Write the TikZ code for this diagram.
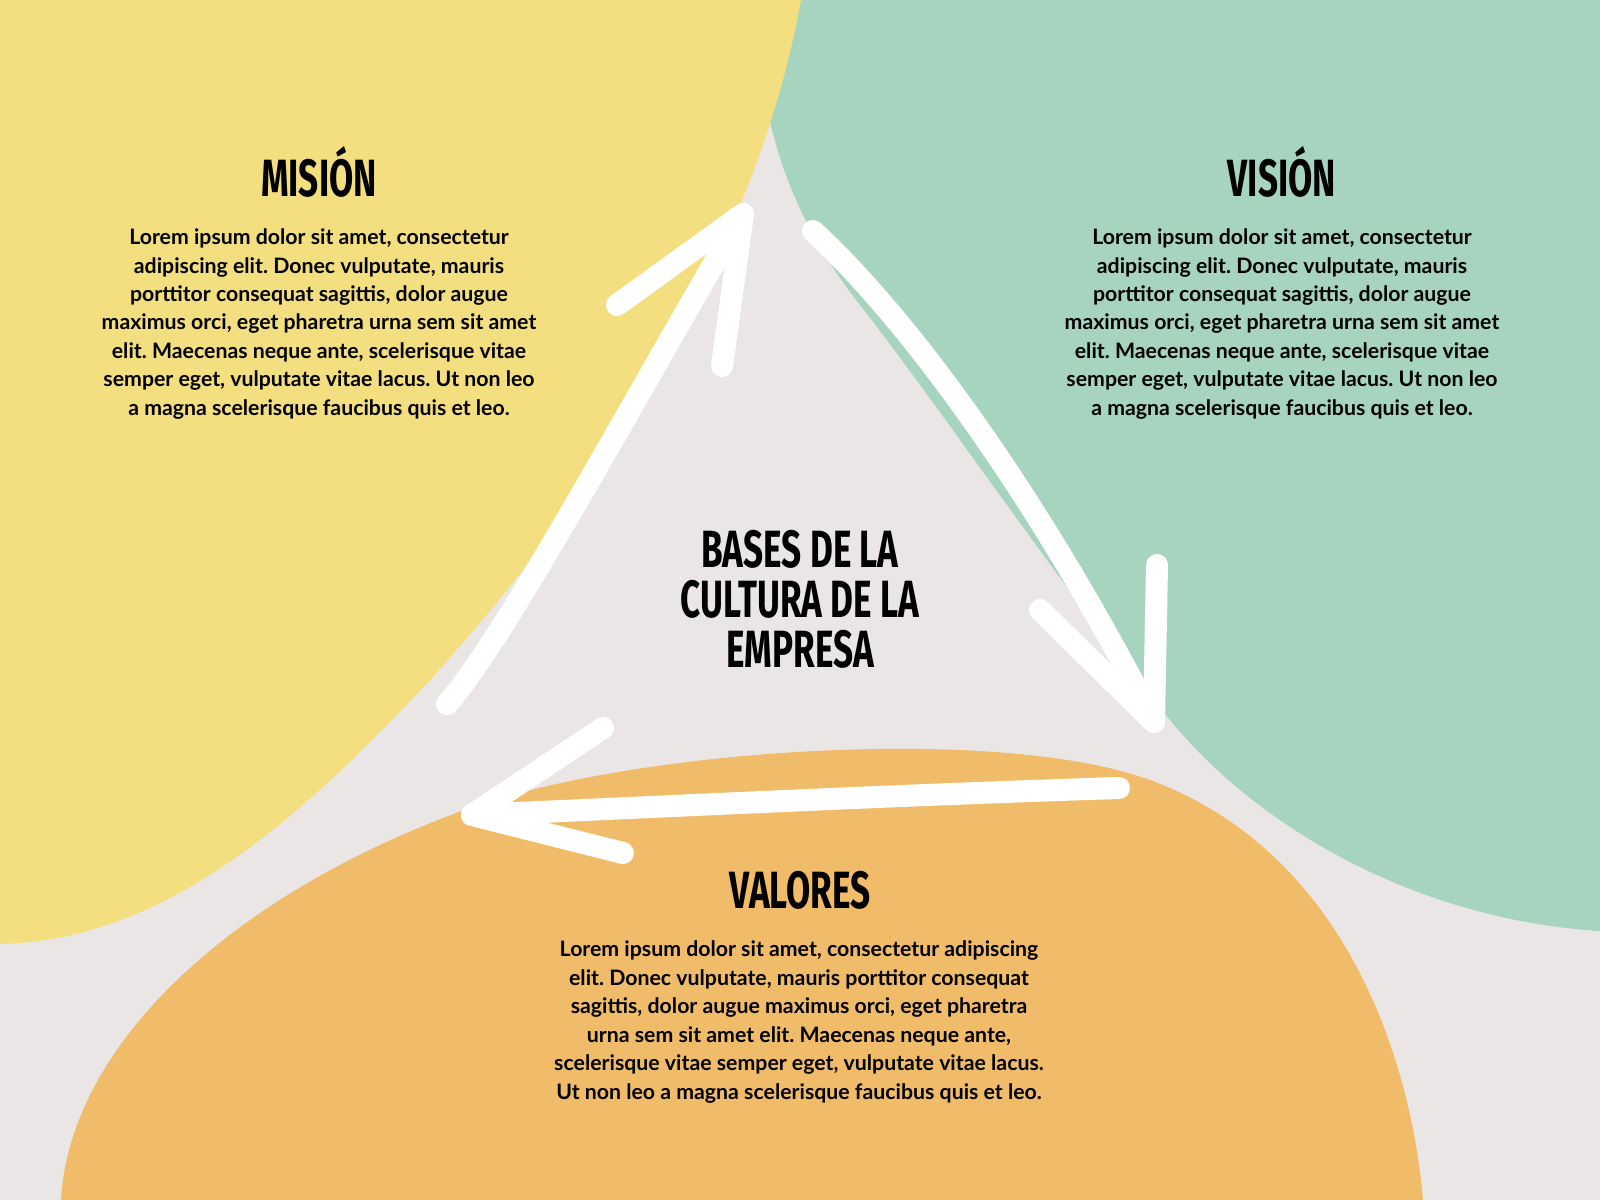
\documentclass[tikz,border=0pt]{standalone}
\usepackage{fontspec}
\usepackage{tikz}
\usepackage{color}
\newfontfamily\bodyfont{Lato}
\newfontfamily\headfont[FakeStretch=0.67]{Fira Sans}
\definecolor{fondo}{HTML}{EBE6E6}
\definecolor{amarillo}{HTML}{F3DF80}
\definecolor{verde}{HTML}{A6D4BE}
\definecolor{naranja}{HTML}{F1BC6A}
\frenchspacing

\begin{document}
\begin{tikzpicture}[x=0.01cm,y=-0.01cm,
 trazo/.style={white,line width=0.22cm,line cap=round,line join=round},
 titulo/.style={font=\headfont\bfseries\fontsize{14.9}{16}\selectfont,anchor=base},
 texto/.style={font=\bodyfont\bfseries\fontsize{6.05}{8.08}\selectfont,align=center}]
 \useasboundingbox (0,0) rectangle (1600,1200);
 \fill[fondo] (0,0) rectangle (1600,1200);

 % manchas de color
 \fill[verde] (758,0) .. controls (756,110) and (785,210) .. (860,305)
   .. controls (935,400) and (1070,600) .. (1170,720)
   .. controls (1260,830) and (1420,920) .. (1600,931) -- (1600,0) -- cycle;
 \fill[amarillo] (0,0) -- (801,0) .. controls (760,230) and (620,470) .. (430,680)
   .. controls (290,830) and (160,940) .. (0,944) -- cycle;
 \fill[naranja] (61,1200) .. controls (70,1040) and (240,890) .. (470,808)
   .. controls (640,748) and (1000,725) .. (1150,780)
   .. controls (1340,850) and (1410,1050) .. (1423,1200) -- cycle;

 % flechas
 \coordinate (m0) at (447,704);
 \coordinate (m1) at (743,214);
 \coordinate (ma) at (617,305);
 \coordinate (mb) at (722,366);
 \draw[trazo] (m0) .. controls (505,640) and (650,370) .. (m1);
 \draw[trazo] (ma) -- (m1) -- (mb);

 \coordinate (v0) at (813,231);
 \coordinate (v1) at (1154,722);
 \coordinate (va) at (1157,565);
 \coordinate (vb) at (1040,610);
 \draw[trazo] (v0) .. controls (910,320) and (1040,500) .. (v1);
 \draw[trazo] (va) -- (v1) -- (vb);

 \coordinate (c0) at (1119,788);
 \coordinate (c1) at (472,815);
 \coordinate (ca) at (603,728);
 \coordinate (cb) at (623,853);
 \draw[trazo] (c0) .. controls (900,795) and (700,805) .. (c1);
 \draw[trazo] (ca) -- (c1) -- (cb);

 % textos
 \node[titulo] (mision) at (319,196) {MISIÓN};
 \node[texto] (misiontxt) at (319,324) {Lorem ipsum dolor sit amet, consectetur\\adipiscing elit. Donec vulputate, mauris\\porttitor consequat sagittis, dolor augue\\maximus orci, eget pharetra urna sem sit amet\\elit. Maecenas neque ante, scelerisque vitae\\semper eget, vulputate vitae lacus. Ut non leo\\a magna scelerisque faucibus quis et leo.};

 \node[titulo] (vision) at (1282,196) {VISIÓN};
 \node[texto] (visiontxt) at (1282,324) {Lorem ipsum dolor sit amet, consectetur\\adipiscing elit. Donec vulputate, mauris\\porttitor consequat sagittis, dolor augue\\maximus orci, eget pharetra urna sem sit amet\\elit. Maecenas neque ante, scelerisque vitae\\semper eget, vulputate vitae lacus. Ut non leo\\a magna scelerisque faucibus quis et leo.};

 \node[titulo,anchor=center,align=center,font=\headfont\bfseries\fontsize{14.9}{14.2}\selectfont] (bases) at (800,599) {BASES DE LA\\CULTURA DE LA\\EMPRESA};

 \node[titulo] (valores) at (800,908) {VALORES};
 \node[texto] (valorestxt) at (799,1022) {Lorem ipsum dolor sit amet, consectetur adipiscing\\elit. Donec vulputate, mauris porttitor consequat\\sagittis, dolor augue maximus orci, eget pharetra\\urna sem sit amet elit. Maecenas neque ante,\\scelerisque vitae semper eget, vulputate vitae lacus.\\Ut non leo a magna scelerisque faucibus quis et leo.};
\end{tikzpicture}
\end{document}
